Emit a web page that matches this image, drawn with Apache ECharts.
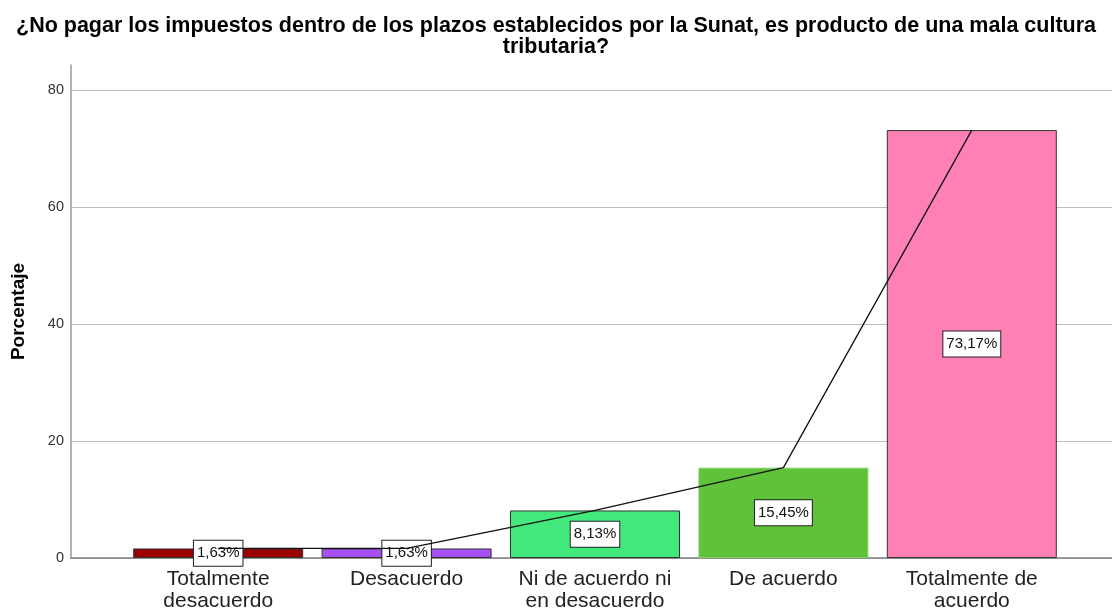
<!DOCTYPE html>
<html>
<head>
<meta charset="utf-8">
<script src="https://cdn.jsdelivr.net/npm/echarts@6/dist/echarts.min.js"></script>
<style>html,body{margin:0;padding:0;background:#fff}#c{width:1112px;height:612px}</style>
</head>
<body>
<div id="c"></div>
<script>
const titleText = '¿No pagar los impuestos dentro de los plazos establecidos por la Sunat, es producto de una mala cultura\ntributaria?';
const categories = ['Totalmente\ndesacuerdo', 'Desacuerdo', 'Ni de acuerdo ni\nen desacuerdo', 'De acuerdo', 'Totalmente de\nacuerdo'];
const percentages = [1.63, 1.63, 8.13, 15.45, 73.17];
const barColors = ['#9a0000', '#a64ff3', '#42e87c', '#5fc23a', '#ff81b3'];
const barBorders = ['#333333', '#333333', '#333333', '#86d36a', '#333333'];
const yTicks = [0, 20, 40, 60, 80];

const FONT = '"Liberation Sans", Arial, sans-serif';
const yMax = 84.3;

const chart = echarts.init(document.getElementById('c'), null, {renderer: 'canvas'});
chart.setOption({
  animation: false,
  backgroundColor: '#ffffff',
  textStyle: {fontFamily: FONT},
  title: {
    text: titleText,
    left: 551,
    top: 11,
    textAlign: 'center',
    textStyle: {fontFamily: FONT, fontSize: 21.5, fontWeight: 'bold', color: '#000', lineHeight: 21, align: 'center'}
  },
  grid: [
    {left: 71, right: 0, top: 65, bottom: 54},
    {left: 124, right: 46, top: 65, bottom: 54}
  ],
  xAxis: [
    {gridIndex: 0, type: 'value', min: 0, max: 1,
     axisLine: {show: true, lineStyle: {color: '#7f7f7f', width: 1.5}},
     axisTick: {show: false}, axisLabel: {show: false}, splitLine: {show: false}},
    {gridIndex: 1, type: 'category', data: categories,
     axisLine: {show: false}, axisTick: {show: false},
     axisLabel: {interval: 0, fontFamily: FONT, fontSize: 21, lineHeight: 22, color: '#222', margin: 10}}
  ],
  yAxis: [
    {gridIndex: 0, type: 'value', min: yTicks[0], max: yMax, interval: 20,
     name: 'Porcentaje', nameLocation: 'middle', nameGap: 43,
     nameTextStyle: {fontFamily: FONT, fontSize: 19, fontWeight: 'bold', color: '#000'},
     axisLine: {show: true, lineStyle: {color: '#9a9a9a', width: 1.5}},
     axisTick: {show: false},
     axisLabel: {fontFamily: FONT, fontSize: 14.5, color: '#333', margin: 7, showMaxLabel: false,
       formatter: v => (yTicks.indexOf(v) >= 0 ? String(v) : '')},
     splitLine: {show: true, showMaxLine: false, lineStyle: {color: '#bdbdbd', width: 1}}},
    {gridIndex: 1, type: 'value', min: yTicks[0], max: yMax, show: false, splitLine: {show: false}}
  ],
  series: [
    {
      type: 'bar', xAxisIndex: 1, yAxisIndex: 1, barWidth: 170,
      data: percentages.map((v, i) => ({value: v, itemStyle: {color: barColors[i], borderColor: barBorders[i], borderWidth: 1}})),
      label: {
        show: true, position: 'inside',
        formatter: p => p.value.toFixed(2).replace('.', ',') + '%',
        fontFamily: FONT, fontSize: 15, color: '#111',
        backgroundColor: '#ffffff', borderColor: '#222', borderWidth: 1, padding: [5, 3, 5, 3]
      }
    },
    {
      type: 'line', xAxisIndex: 1, yAxisIndex: 1, data: percentages,
      symbol: 'none', lineStyle: {color: '#111', width: 1.3}
    }
  ]
});
</script>
</body>
</html>
